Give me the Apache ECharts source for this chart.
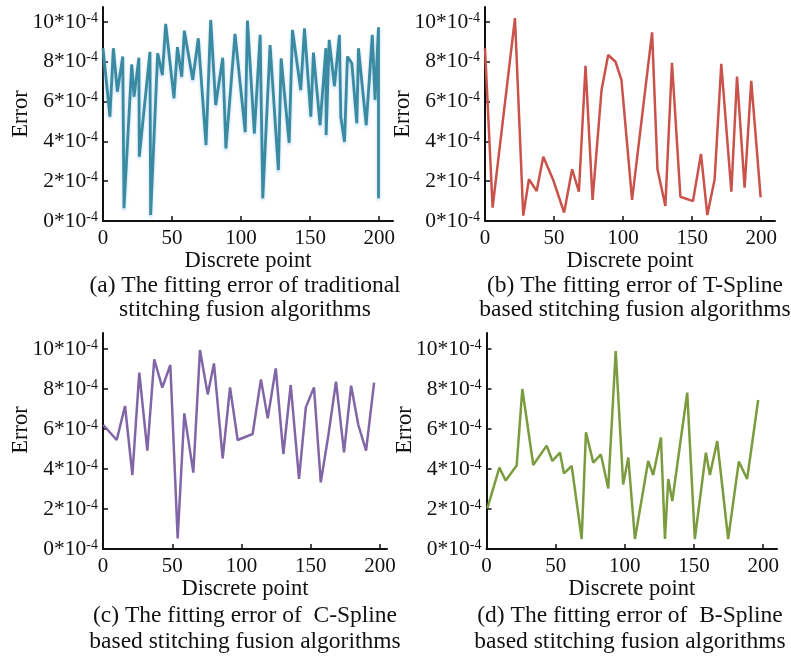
<!DOCTYPE html>
<html>
<head>
<meta charset="utf-8">
<script src="https://cdn.jsdelivr.net/npm/echarts@6/dist/echarts.min.js"></script>
<style>
  html, body { margin: 0; padding: 0; background: #fff; }
  #chart { width: 791px; height: 659px; }
</style>
</head>
<body>
<div id="chart"></div>
<script>
// error values are in units of 1e-4
const xTicks = [0, 50, 100, 150, 200]
const yTicks = [0, 2, 4, 6, 8, 10]

const xA = [0, 5, 7.5, 10.4, 14.3, 15.2, 20.8, 22.5, 26, 26.3, 34, 34.5, 39.6, 43, 45.4, 51.4, 53.9, 57, 58.9, 65,
  69, 74.6, 78, 81.6, 86.7, 89, 95.6, 103, 104.6, 109.6, 113.8, 115.7, 121, 127, 129, 134.8, 137.2, 143.2, 145.9, 150.5,
  152.4, 157.2, 161.4, 161.6, 163.8, 167.6, 171.2, 172.2, 174.9, 177, 180.2, 183.8, 185, 190.6, 195, 197, 199.5, 199.5]
const yA = [8.68, 5.24, 8.68, 6.5, 8.26, 0.64, 7.87, 6.25, 8.2, 3.23, 8.5, 0.3, 8.43, 7.34, 9.9, 6.17, 8.73, 7.25, 9.56, 7.09,
  9.18, 3.82, 10.1, 5.83, 8.2, 3.65, 9.4, 4.47, 10.07, 4.4, 9.35, 1.14, 8.84, 2.56, 8.17, 3.93, 9.6, 6.58, 9.68, 5.24,
  8.46, 4.82, 8.68, 4.32, 9.1, 6.78, 9.35, 5.24, 3.98, 8.26, 7.92, 4.91, 8.68, 4.82, 9.35, 6.1, 9.73, 1.14]

const xB = [0, 5.5, 21.7, 27.7, 31.8, 37.4, 42.2, 49.4, 57.3, 63.1, 68, 72.8, 77.9, 84.4, 89.2, 94.5, 98.8, 106.5, 121, 124.9,
  130.6, 135.4, 141.5, 150.6, 156.4, 161, 166.3, 171.1, 178.4, 182.5, 188, 192.8, 199.6]
const yB = [8.68, 0.67, 10.19, 0.27, 2.1, 1.51, 3.23, 2.06, 0.42, 2.6, 1.47, 7.79, 1.06, 6.58, 8.34, 8.0, 7.09, 1.06, 9.48, 2.6,
  0.75, 7.95, 1.22, 1.0, 3.37, 0.3, 2.1, 7.89, 1.47, 7.25, 1.67, 7.04, 1.19]

const xC = [0.2, 9.9, 15.9, 21.2, 26.2, 32, 37, 42.8, 48.6, 53.9, 58.7, 65.2, 70, 75.6, 80.1, 86.4, 91.7, 97.2, 108, 114,
  118.9, 124.7, 130.2, 135.5, 141.5, 146.4, 152.3, 157.2, 162.7, 168.2, 174, 179.1, 184.3, 189.9, 195.7]
const yC = [6.2, 5.45, 7.15, 3.7, 8.82, 4.92, 9.48, 8.07, 9.2, 0.53, 6.78, 3.82, 9.95, 7.73, 9.28, 4.53, 8.08, 5.45, 5.75, 8.48,
  6.53, 9.03, 4.75, 8.2, 3.5, 7.08, 8.08, 3.33, 5.7, 8.37, 4.83, 8.17, 6.2, 4.92, 8.32]

const xD = [0.6, 9.3, 13.9, 21.8, 25.9, 33.8, 43.5, 47.6, 53.1, 56, 61.6, 68.8, 71.9, 77.2, 82.7, 88, 93.4, 98.8, 102.5, 107.3,
  116.9, 120.5, 126.1, 129, 131.4, 134.3, 145.1, 150.6, 158.6, 161.5, 166.8, 174.7, 182.4, 188.4, 196.4]
const yD = [2.03, 4.07, 3.42, 4.17, 8.0, 4.2, 5.17, 4.4, 4.82, 3.78, 4.15, 0.5, 5.83, 4.32, 4.73, 3.03, 9.9, 3.23, 4.57, 0.5,
  4.4, 3.7, 5.57, 0.5, 3.5, 2.4, 7.82, 0.5, 4.82, 3.7, 5.4, 0.5, 4.37, 3.5, 7.45]

const captions = [
  '(a) The fitting error of traditional\nstitching fusion algorithms',
  '(b) The fitting error of T-Spline\nbased stitching fusion algorithms',
  '(c) The fitting error of  C-Spline\nbased stitching fusion algorithms',
  '(d) The fitting error of  B-Spline\nbased stitching fusion algorithms',
]

const FONT = 'Liberation Serif'

// panel layout: grid box, axis maxima, line colour, caption position
const panels = [
  { xs: xA, ys: yA, color: '#3a8ba1', left: 103, top: 7, width: 290, height: 214, xMax: 210, yMax: 10.75, capX: 240, capY: 269, capLH: 24, namePad: 0 },
  { xs: xB, ys: yB, color: '#c9524b', left: 485, top: 7, width: 290, height: 214, xMax: 210, yMax: 10.75, capX: 630, capY: 269, capLH: 24, namePad: 0 },
  { xs: xC, ys: yC, color: '#8066a6', left: 103, top: 333, width: 284, height: 216, xMax: 205, yMax: 10.8, capX: 240, capY: 598, capLH: 26, namePad: 22 },
  { xs: xD, ys: yD, color: '#7b9b3f', left: 486.5, top: 333, width: 290.5, height: 216, xMax: 210, yMax: 10.8, capX: 625, capY: 598, capLH: 26, namePad: 22 },
]

const axisLine = { show: true, lineStyle: { color: '#111', width: 2 } }
const axisTick = { show: true, inside: true, length: 5, lineStyle: { color: '#111', width: 1.5 } }

const option = {
  animation: false,
  backgroundColor: '#fff',
  title: [],
  grid: [],
  xAxis: [],
  yAxis: [],
  series: [],
}

panels.forEach((p, i) => {
  option.grid.push({ left: p.left, top: p.top, width: p.width, height: p.height })
  option.xAxis.push({
    type: 'value',
    gridIndex: i,
    min: 0,
    max: p.xMax,
    name: 'Discrete point',
    nameLocation: 'middle',
    nameGap: 28,
    nameTextStyle: { fontFamily: FONT, fontSize: 22.5, color: '#111' },
    axisLine,
    axisTick: { ...axisTick, customValues: xTicks },
    axisLabel: { customValues: xTicks, margin: 7, fontFamily: FONT, fontSize: 21, color: '#111' },
    splitLine: { show: false },
  })
  option.yAxis.push({
    type: 'value',
    gridIndex: i,
    min: 0,
    max: p.yMax,
    name: 'Error',
    nameLocation: 'middle',
    nameGap: 70,
    nameMoveOverlap: false,
    nameTextStyle: { fontFamily: FONT, fontSize: 22.5, color: '#111', padding: [0, 0, 0, p.namePad] },
    axisLine,
    axisTick: { ...axisTick, customValues: yTicks },
    axisLabel: {
      customValues: yTicks,
      margin: 5,
      formatter: (v) => `{n|${v}*10}{s|-4}`,
      rich: {
        n: { fontFamily: FONT, fontSize: 21.5, color: '#111' },
        s: { fontFamily: FONT, fontSize: 14, color: '#111', padding: [0, 0, 8, 0] },
      },
    },
    splitLine: { show: false },
  })
  option.series.push({
    type: 'line',
    xAxisIndex: i,
    yAxisIndex: i,
    data: p.xs.map((x, k) => [x, p.ys[k]]),
    showSymbol: false,
    lineStyle: {
      color: p.color,
      width: i === 0 ? 2.8 : 2.5,
      shadowColor: i === 0 ? 'rgba(150, 195, 240, 0.7)' : 'rgba(0,0,0,0)',
      shadowBlur: 3,
      shadowOffsetY: 2,
    },
  })
  option.title.push({
    text: captions[i],
    left: p.capX,
    top: p.capY,
    textAlign: 'center',
    textStyle: { fontFamily: FONT, fontSize: 23.5, fontWeight: 'normal', color: '#111', lineHeight: p.capLH },
  })
})

const chart = echarts.init(document.getElementById('chart'))
chart.setOption(option)
</script>
</body>
</html>
